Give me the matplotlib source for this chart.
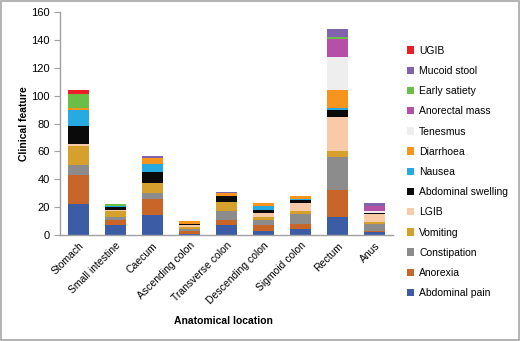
import matplotlib
matplotlib.use("Agg")
import matplotlib.pyplot as plt
from matplotlib.patches import Rectangle, Patch
import numpy as np

categories = ["Stomach", "Small intestine", "Caecum", "Ascending colon", "Transverse colon",
              "Descending colon", "Sigmoid colon", "Rectum", "Anus"]

abdominal_pain     = [22, 7, 14, 1, 7, 3, 4, 13, 2]
anorexia           = [21, 4, 12, 2, 4, 4, 4, 19, 1]
constipation       = [7, 2, 4, 1, 6, 4, 7, 24, 5]
vomiting           = [14, 4, 7, 2, 7, 2, 2, 4, 1]
lgib               = [1, 1, 0, 1, 0, 3, 6, 25, 6]
abdominal_swelling = [13, 2, 8, 1, 4, 2, 2, 5, 1]
nausea             = [12, 1, 6, 0, 0, 3, 1, 1, 0]
diarrhoea          = [1, 0, 4, 2, 2, 2, 2, 13, 0]
tenesmus           = [0, 0, 0, 0, 0, 0, 0, 24, 1]
anorectal_mass     = [0, 0, 0, 0, 0, 0, 0, 13, 4]
early_satiety      = [10, 1, 0, 0, 0, 0, 0, 1, 0]
mucoid_stool       = [0, 0, 2, 0, 1, 0, 0, 6, 2]
ugib               = [3, 0, 0, 0, 0, 0, 0, 0, 0]

series_names = ["Abdominal pain", "Anorexia", "Constipation", "Vomiting", "LGIB",
                "Abdominal swelling", "Nausea", "Diarrhoea", "Tenesmus",
                "Anorectal mass", "Early satiety", "Mucoid stool", "UGIB"]
series_values = [abdominal_pain, anorexia, constipation, vomiting, lgib,
                 abdominal_swelling, nausea, diarrhoea, tenesmus,
                 anorectal_mass, early_satiety, mucoid_stool, ugib]
colors = ["#3C5DA6", "#C8662A", "#8C8C8C", "#D6A02C", "#F8CAA8",
          "#0A0A0A", "#27AAE1", "#F7941D", "#EEEEEE",
          "#B64FA6", "#6BBE45", "#7F63AE", "#EE1C25"]

yticks = [0, 20, 40, 60, 80, 100, 120, 140, 160]

plt.rcParams['font.family'] = ['Liberation Sans', 'DejaVu Sans']

fig = plt.figure(figsize=(5.2, 3.41), dpi=100)
ax = fig.add_axes([0.115, 0.311, 0.641, 0.653])

x = np.arange(len(categories))
bottom = np.zeros(len(categories))
handles = []
for name, vals, c in zip(series_names, series_values, colors):
    v = np.array(vals, dtype=float)
    ax.bar(x, v, 0.57, bottom=bottom, color=c, linewidth=0)
    bottom += v
    handles.append(Patch(facecolor=c, edgecolor='none', label=name))

ax.set_xlim(-0.5, len(categories) - 0.5)
ax.set_ylim(0, 160)
ax.set_yticks(yticks)
ax.set_yticklabels([str(t) for t in yticks], fontsize=8)
ax.set_xticks(x)
ax.set_xticklabels(categories, rotation=45, ha='right', rotation_mode='anchor', fontsize=7.5)
ax.tick_params(axis='x', length=0, pad=4)
ax.tick_params(axis='y', length=4, color='#A0A0A0', pad=3)
for s in ['top', 'right']:
    ax.spines[s].set_visible(False)
for s in ['left', 'bottom']:
    ax.spines[s].set_color('#A0A0A0')
    ax.spines[s].set_linewidth(1.0)

ax.set_ylabel("Clinical feature", fontsize=7.5, fontweight='bold', labelpad=2)
fig.text(0.43, 0.06, "Anatomical location", fontsize=7.5, fontweight='bold', ha='center', va='center')

leg = fig.legend(handles=handles[::-1], loc='upper left', bbox_to_anchor=(0.782, 0.866),
                 frameon=False, fontsize=7.5, handlelength=0.7, handleheight=0.7,
                 handletextpad=0.5, labelspacing=0.98, borderaxespad=0, borderpad=0)

fig.patches.append(Rectangle((0.001, 0.002), 0.998, 0.996, transform=fig.transFigure,
                             fill=False, edgecolor='#A6A6A6', linewidth=1.2))

fig.savefig("out.png", dpi=100)
